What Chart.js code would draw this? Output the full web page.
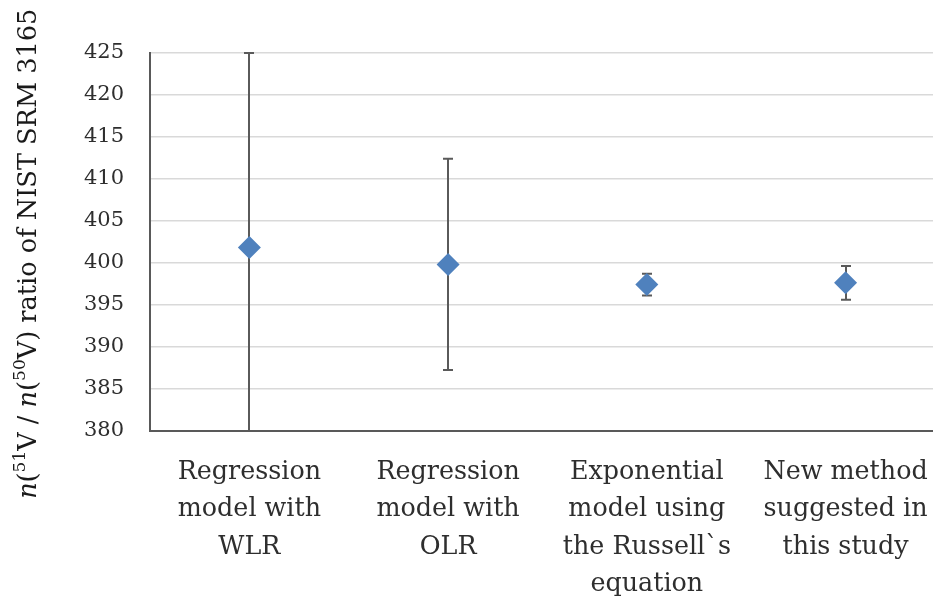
<!DOCTYPE html>
<html>
<head>
<meta charset="utf-8">
<script src="https://cdn.jsdelivr.net/npm/chart.js@4"></script>
<style>
  html, body { margin: 0; padding: 0; background: #fff; overflow: hidden; }
  #wrap { width: 933px; height: 596px; position: relative; }
</style>
</head>
<body>
<div id="wrap"><canvas id="chart"></canvas></div>
<script>
// Methods compared (multi-line category labels)
const methods = [
  ["Regression", "model with", "WLR"],
  ["Regression", "model with", "OLR"],
  ["Exponential", "model using", "the Russell`s", "equation"],
  ["New method", "suggested in", "this study"]
];
// Measured n(51V)/n(50V) ratio for each method
const ratioValues = [401.8, 399.8, 397.4, 397.6];
// Expanded uncertainty (half-width of the error bar)
const uncertainties = [23.2, 12.6, 1.3, 2.0];
// Y axis range and tick spacing
const yMin = 380;
const yMax = 425;
const yStep = 5;

const serif = '"DejaVu Serif", "Liberation Serif", serif';

// Vertical error bars with end caps, drawn beneath the markers
const errorBars = {
  id: 'errorBars',
  beforeDatasetsDraw(chart) {
    const { ctx, chartArea, scales: { x, y } } = chart;
    ctx.save();
    ctx.beginPath();
    ctx.rect(chartArea.left, chartArea.top - 3, chartArea.right - chartArea.left, chartArea.bottom - chartArea.top + 3);
    ctx.clip();
    ctx.strokeStyle = '#5a5a5a';
    ctx.lineWidth = 2;
    const capHalf = 5;
    ratioValues.forEach((v, i) => {
      const px = Math.round(x.getPixelForValue(i));
      const hi = v + uncertainties[i];
      const lo = v - uncertainties[i];
      const yHi = y.getPixelForValue(Math.min(hi, y.max));
      const yLo = y.getPixelForValue(Math.max(lo, y.min));
      ctx.beginPath();
      ctx.moveTo(px, yHi);
      ctx.lineTo(px, yLo);
      if (hi <= y.max + 1e-9) { ctx.moveTo(px - capHalf, yHi); ctx.lineTo(px + capHalf, yHi); }
      if (lo >= y.min - 1e-9) { ctx.moveTo(px - capHalf, yLo); ctx.lineTo(px + capHalf, yLo); }
      ctx.stroke();
    });
    ctx.restore();
  }
};

// Rotated y-axis title with italic n and superscript mass numbers
const yTitle = {
  id: 'yTitle',
  afterDraw(chart) {
    const ctx = chart.ctx;
    const size = 25.6;
    const parts = [
      { t: 'n', italic: true },
      { t: '(' },
      { t: '51', sup: true },
      { t: 'V / ' },
      { t: 'n', italic: true },
      { t: '(' },
      { t: '50', sup: true },
      { t: 'V) ratio of NIST SRM 3165' }
    ];
    const fontFor = p => `${p.italic ? 'italic ' : ''}${p.sup ? Math.round(size * 0.66) : size}px ${serif}`;
    let total = 0;
    parts.forEach(p => { ctx.font = fontFor(p); p.w = ctx.measureText(p.t).width; total += p.w; });
    const area = chart.chartArea;
    const centerY = (area.top + area.bottom) / 2 + 12;
    ctx.save();
    ctx.translate(36, centerY);
    ctx.rotate(-Math.PI / 2);
    ctx.fillStyle = '#1a1a1a';
    ctx.textBaseline = 'alphabetic';
    ctx.textAlign = 'left';
    let cx = -total / 2;
    parts.forEach(p => {
      ctx.font = fontFor(p);
      ctx.fillText(p.t, cx, p.sup ? -size * 0.42 : 0);
      cx += p.w;
    });
    ctx.restore();
  }
};

new Chart(document.getElementById('chart'), {
  type: 'scatter',
  data: {
    datasets: [{
      data: ratioValues.map((v, i) => ({ x: i, y: v })),
      pointStyle: 'rectRot',
      pointRadius: 11.5,
      pointHoverRadius: 11.5,
      backgroundColor: '#4F81BD',
      borderColor: '#4F81BD',
      borderWidth: 0,
      showLine: false,
      clip: false
    }]
  },
  options: {
    responsive: true,
    maintainAspectRatio: false,
    animation: false,
    layout: { autoPadding: false, padding: { top: 53, right: 0, bottom: 0, left: 0 } },
    plugins: { legend: { display: false }, tooltip: { enabled: false } },
    scales: {
      x: {
        type: 'linear',
        min: -0.5,
        max: 3.44,
        afterBuildTicks: s => { s.ticks = methods.map((_, i) => ({ value: i })); },
        afterFit: s => { s.height = 165.5; s.paddingLeft = 0; s.paddingRight = 0; },
        ticks: {
          callback: v => methods[v],
          maxRotation: 0,
          minRotation: 0,
          autoSkip: false,
          padding: 23,
          color: '#2e2e2e',
          font: { family: serif, size: 25.4, lineHeight: 1.476 }
        },
        grid: { display: false, drawTicks: false },
        border: { display: true, color: '#595959', width: 2 }
      },
      y: {
        min: yMin,
        max: yMax,
        afterFit: s => { s.width = 150; s.paddingTop = 0; s.paddingBottom = 0; },
        ticks: {
          stepSize: yStep,
          padding: 26,
          color: '#2e2e2e',
          font: { family: serif, size: 21 }
        },
        grid: { color: '#d9d9d9', lineWidth: 1.5, drawTicks: false },
        border: { display: true, color: '#595959', width: 2 }
      }
    }
  },
  plugins: [errorBars, yTitle]
});
</script>
</body>
</html>
